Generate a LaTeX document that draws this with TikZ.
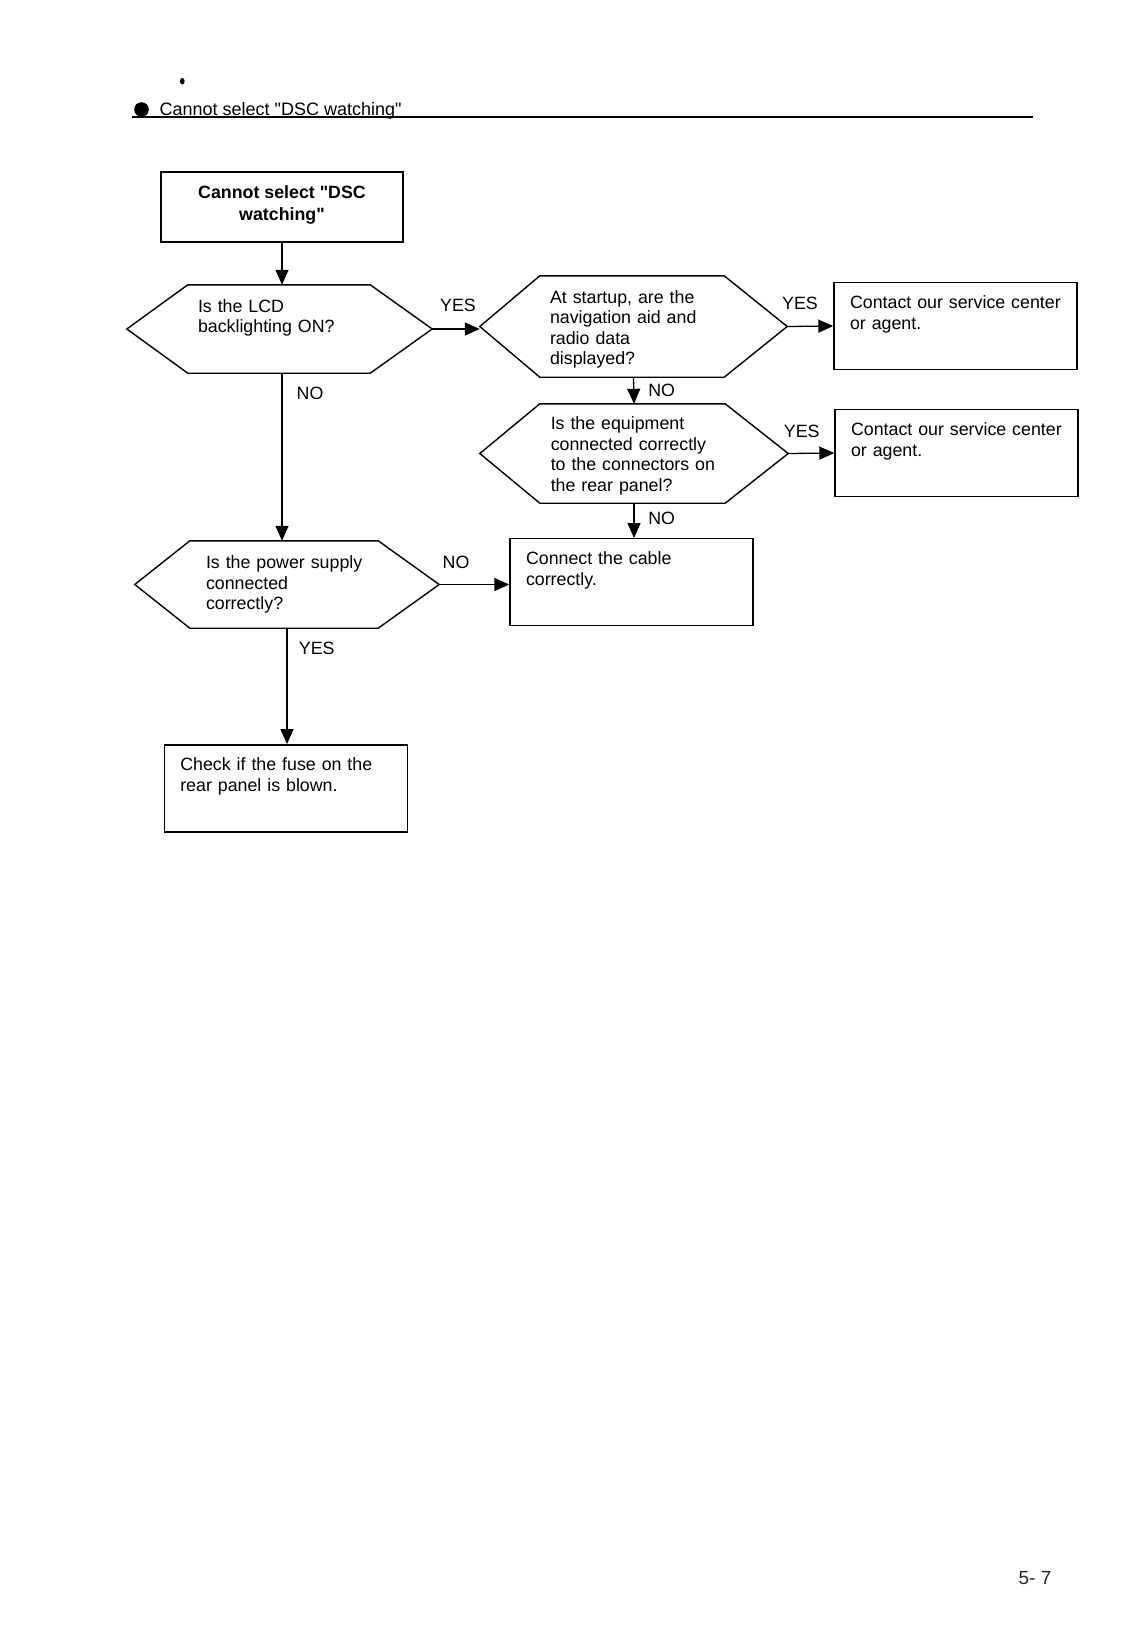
\documentclass[tikz,border=0pt]{standalone}
\usepackage{fontspec}
\setmainfont{Liberation Sans}[Ligatures=TeXOff]
\usetikzlibrary{arrows.meta}

\begin{document}
\begin{tikzpicture}[x=1pt, y=-1pt,
  every node/.style={font=\fontsize{17.8}{20.6}\selectfont},
  title/.style={draw, line width=1.4pt, minimum width=242pt, minimum height=70pt,
                align=center, text depth=8pt,
                font=\fontsize{17.8}{21.3}\selectfont\bfseries},
  decision/.style={inner sep=0pt, align=left},
  outline/.style={line width=1.4pt},
  box/.style={draw, line width=1.4pt, text width=211pt, align=left,
              inner xsep=16pt, inner ysep=13pt, text height=13pt, text depth=48pt},
  arrow/.style={-{Triangle[length=15pt, width=13pt]}, line width=1.3pt},
  answer/.style={inner sep=0pt}
]
\useasboundingbox (0,0) rectangle (1129,1633);
\fill[white] (0,0) rectangle (1129,1633);

\fill (182.3,81.2) ellipse[x radius=2.3pt, y radius=3.3pt];
\node[circle, fill, minimum size=14.6pt, inner sep=0pt] (bullet) at (141.5,109.5) {};
\node[anchor=base west, inner sep=0pt, font=\fontsize{18}{20}\selectfont] (heading)
  at (159.4,115.5) {Cannot select "DSC watching"};
\draw[line width=1.3pt] (132,117) -- (1033,117);

\node[title] (start) at (282,207) {Cannot select "DSC\\watching"};

\node[decision, minimum width=305pt, minimum height=88pt, text width=163pt,
      text depth=46.6pt] (lcd) at (279.5,329)
  {Is the LCD\\backlighting ON?};
\draw[outline] (lcd.west) -- ([xshift=61pt]lcd.north west) -- ([xshift=-62pt]lcd.north east)
  -- (lcd.east) -- ([xshift=-62pt]lcd.south east) -- ([xshift=61pt]lcd.south west) -- cycle;

\node[decision, minimum width=307pt, minimum height=101pt, text width=167pt,
      text height=18.7pt] (startup) at (633.5,326.5)
  {At startup, are the\\navigation aid and\\radio data\\displayed?};
\draw[outline] (startup.west) -- ([xshift=60pt]startup.north west) -- ([xshift=-63pt]startup.north east)
  -- (startup.east) -- ([xshift=-63pt]startup.south east) -- ([xshift=60pt]startup.south west) -- cycle;

\node[decision, minimum width=308pt, minimum height=99pt, text width=166.5pt,
      text height=17.9pt] (equip) at (634,453.5)
  {Is the equipment\\connected correctly\\to the connectors on\\the rear panel?};
\draw[outline] (equip.west) -- ([xshift=60pt]equip.north west) -- ([xshift=-63pt]equip.north east)
  -- (equip.east) -- ([xshift=-63pt]equip.south east) -- ([xshift=60pt]equip.south west) -- cycle;

\node[decision, minimum width=304pt, minimum height=87pt, text width=162pt] (power)
  at (287,584.5)
  {Is the power supply\\connected\\correctly?};
\draw[outline] (power.west) -- ([xshift=55pt]power.north west) -- ([xshift=-61pt]power.north east)
  -- (power.east) -- ([xshift=-61pt]power.south east) -- ([xshift=55pt]power.south west) -- cycle;

\node[box] (service1) at (955.5,326) {Contact our service center\\or agent.};
\node[box] (service2) at (956.5,453) {Contact our service center\\or agent.};
\node[box] (cable) at (631.5,582.2) {Connect the cable\\correctly.};
\node[box] (fuse) at (285.8,788.3) {Check if the fuse on the\\rear panel is blown.};

\draw[arrow] (start.south) -- (start.south |- lcd.north);
\draw[arrow] (lcd.east) -- (lcd.east -| startup.west);
\draw[arrow] (startup.east) -- (service1.west);
\draw[arrow] (startup.south) -- (equip.north);
\draw[arrow] (equip.east) -- (service2.west);
\draw[arrow] (equip.south) -- (equip.south |- cable.north);
\draw[arrow] (start.south |- lcd.south) -- (start.south |- power.north);
\draw[arrow] (power.east) -- (power.east -| cable.west);
\draw[arrow] (power.south) -- (power.south |- fuse.north);

\node[answer] (yes1) at (458,305.7) {YES};
\node[answer] (no1) at (310,393.3) {NO};
\node[answer] (yes2) at (800,303.3) {YES};
\node[answer] (no2) at (661.7,390) {NO};
\node[answer] (yes3) at (801.7,431.7) {YES};
\node[answer] (no3) at (661.7,518.3) {NO};
\node[answer] (no4) at (456,562.3) {NO};
\node[answer] (yes4) at (316.7,648.3) {YES};

\node[inner sep=0pt, font=\fontsize{19}{20}\selectfont, text=black!85] (page)
  at (1035,1578) {5- 7};
\end{tikzpicture}
\end{document}
